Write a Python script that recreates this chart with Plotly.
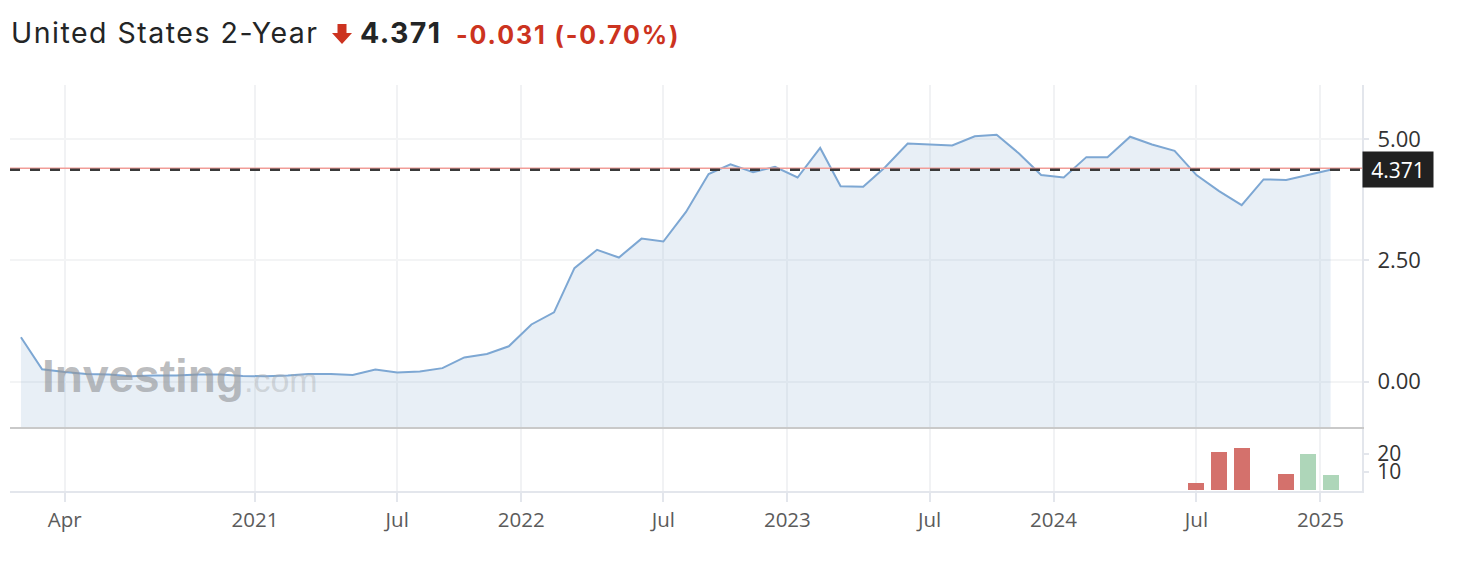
import plotly.graph_objects as go

# ---------------- data ----------------
MONTH_STARTS = [(2020, m) for m in range(2, 13)] + [(y, m) for y in (2021, 2022, 2023, 2024) for m in range(1, 13)] + [(2025, 1)]
DATES = [f"{y}-{m:02d}-15" for y, m in MONTH_STARTS]

YIELDS = [0.915, 0.255, 0.20, 0.16, 0.15, 0.11, 0.13, 0.13, 0.15, 0.15, 0.12,
          0.11, 0.13, 0.16, 0.16, 0.14, 0.25, 0.19, 0.21, 0.28, 0.50, 0.57, 0.73,
          1.18, 1.43, 2.34, 2.72, 2.56, 2.95, 2.89, 3.50, 4.28, 4.48, 4.32, 4.43,
          4.21, 4.82, 4.03, 4.02, 4.42, 4.91, 4.89, 4.87, 5.06, 5.09, 4.70, 4.26,
          4.21, 4.63, 4.63, 5.05, 4.89, 4.76, 4.26, 3.93, 3.64, 4.17, 4.16, 4.26,
          4.371]

VOL_DATES = ["2024-07-15", "2024-08-15", "2024-09-15", "2024-11-15", "2024-12-15", "2025-01-15"]
VOL_VALUES = [4, 21, 23, 9, 20, 8]
VOL_UP = [False, False, False, False, True, True]

LAST = 4.371
PREV_CLOSE = 4.402
CHANGE = "-0.031"
CHANGE_PCT = "(-0.70%)"
TITLE = "United States 2-Year"

X_TICKS = ["2020-04-15", "2021-01-01", "2021-07-15", "2022-01-01", "2022-07-15",
           "2023-01-01", "2023-07-15", "2024-01-01", "2024-07-15", "2025-01-01"]
X_TICK_TEXT = ["Apr", "2021", "Jul", "2022", "Jul", "2023", "Jul", "2024", "Jul", "2025"]
Y_TICKS = [0, 2.5, 5]
VOL_TICKS = [10, 20]

# ---------------- layout geometry ----------------
W, H = 1466, 562
L, R, T, B = 10, 104, 85, 71
PW, PH = W - L - R, H - T - B
Y_MIN, Y_MAX = -0.934, 6.117


def px_x(p):
    return (p - L) / PW


def px_y(p):
    return (H - B - p) / PH


LINE_C = "#7da7d3"
FILL_C = "rgba(150,180,215,0.22)"
RED = "#d4716c"
GREEN = "#aed6b9"
FONT = "Open Sans"
HEAD_RED = "#cc3320"

fig = go.Figure()

# baseline for area fill down to the bottom of the main pane
fig.add_trace(go.Scatter(x=DATES, y=[Y_MIN] * len(DATES), mode="lines",
                         line=dict(width=0), hoverinfo="skip", showlegend=False,
                         xaxis="x2", yaxis="y"))
fig.add_trace(go.Scatter(x=DATES, y=YIELDS, mode="lines", fill="tonexty",
                         fillcolor=FILL_C, line=dict(color=LINE_C, width=2),
                         showlegend=False, xaxis="x2", yaxis="y"))

fig.add_trace(go.Bar(x=VOL_DATES, y=VOL_VALUES,
                     marker=dict(color=[GREEN if u else RED for u in VOL_UP], line=dict(width=0)),
                     width=22 * 86400000, showlegend=False, xaxis="x", yaxis="y2"))

x_range = ["2020-01-31", "2025-02-27"]

fig.update_layout(
    width=W, height=H,
    margin=dict(l=L, r=R, t=T, b=B),
    paper_bgcolor="white", plot_bgcolor="white",
    bargap=0,
    xaxis=dict(domain=[0, 1], anchor="y2", type="date", range=x_range,
               tickmode="array", tickvals=X_TICKS, ticktext=X_TICK_TEXT,
               ticks="outside", ticklen=9, tickwidth=2, tickcolor="#e3e6ec",
               showgrid=True, gridcolor="#f1f2f4", gridwidth=1.5,
               showline=True, linecolor="#e3e6ec", linewidth=2,
               tickfont=dict(family=FONT, size=20.5, color="#5b5b5b"),
               zeroline=False),
    xaxis2=dict(domain=[0, 1], anchor="y", matches="x", type="date", range=x_range,
                tickmode="array", tickvals=X_TICKS, showticklabels=False, ticks="",
                showgrid=True, gridcolor="#f1f2f4", gridwidth=1.5,
                showline=True, linecolor="#c9c9c9", linewidth=2, zeroline=False),
    yaxis=dict(domain=[px_y(427), 1], side="right", range=[Y_MIN, Y_MAX],
               tickmode="array", tickvals=Y_TICKS, tickformat=".2f",
               ticks="outside", ticklen=5, tickwidth=2, tickcolor="#e3e6ec",
               showgrid=True, gridcolor="#f3f4f5", gridwidth=1.5,
               showline=True, linecolor="#e3e6ec", linewidth=2, zeroline=False,
               ticklabelstandoff=4,
               tickfont=dict(family=FONT, size=22, color="#333333")),
    yaxis2=dict(domain=[0, px_y(428)], side="right", range=[-0.5, 34],
                tickmode="array", tickvals=VOL_TICKS,
                ticks="outside", ticklen=5, tickwidth=2, tickcolor="#e3e6ec",
                showgrid=False, showline=True, linecolor="#e3e6ec", linewidth=2,
                zeroline=False, ticklabelstandoff=4,
                tickfont=dict(family=FONT, size=21, color="#333333")),
)

# previous close (red) and last price (dashed) lines
fig.add_shape(type="line", xref="paper", x0=0, x1=1, yref="y", y0=PREV_CLOSE, y1=PREV_CLOSE,
              line=dict(color="#f29d98", width=1.6), layer="above")
fig.add_shape(type="line", xref="paper", x0=0, x1=1, yref="y", y0=LAST, y1=LAST,
              line=dict(color="#3a3a3a", width=2.5, dash="10px,10px"), layer="above")

# price label box on the right axis
fig.add_annotation(xref="paper", x=1, xanchor="left", yref="y", y=LAST, yanchor="middle",
                   text=f"{LAST:.3f}", showarrow=False, bgcolor="#212121",
                   font=dict(family=FONT, size=21, color="white"),
                   width=62, height=27, borderpad=4, align="center")

# watermark
fig.add_annotation(xref="paper", yref="paper", x=px_x(40), y=px_y(376), xanchor="left", yanchor="middle",
                   text="<b>Investing</b><span style='font-size:34px;color:rgba(165,167,171,0.62)'>.com</span>",
                   showarrow=False,
                   font=dict(family="Liberation Sans", size=46, color="rgba(148,150,154,0.64)"))

# header
fig.add_annotation(xref="paper", yref="paper", x=px_x(9), y=px_y(33), xanchor="left", yanchor="middle",
                   text=f"<span style='letter-spacing:1.5px'>{TITLE}</span>", showarrow=False,
                   font=dict(family="Inter", size=28.5, color="#232526"))
# down arrow icon
fig.add_shape(type="path", xref="paper", yref="paper", xsizemode="pixel", ysizemode="pixel",
              xanchor=px_x(332), yanchor=px_y(24),
              path="M 5.5 0 L 14.5 0 L 14.5 -9 L 20 -9 L 10 -20 L 0 -9 L 5.5 -9 Z",
              fillcolor=HEAD_RED, line=dict(width=0), layer="above")
fig.add_annotation(xref="paper", yref="paper", x=px_x(358), y=px_y(33), xanchor="left", yanchor="middle",
                   text=f"<span style='letter-spacing:1.4px'><b>{LAST:.3f}</b></span>", showarrow=False,
                   font=dict(family="Inter", size=28.5, color="#232526"))
fig.add_annotation(xref="paper", yref="paper", x=px_x(454), y=px_y(34.5), xanchor="left", yanchor="middle",
                   text=f"<span style='letter-spacing:1.9px'>{CHANGE} {CHANGE_PCT}</span>", showarrow=False,
                   font=dict(family="Inter", size=25, weight=650, color=HEAD_RED))

fig.write_html("out.html", config={"displayModeBar": False},
               post_script="document.body.style.margin='0';")
